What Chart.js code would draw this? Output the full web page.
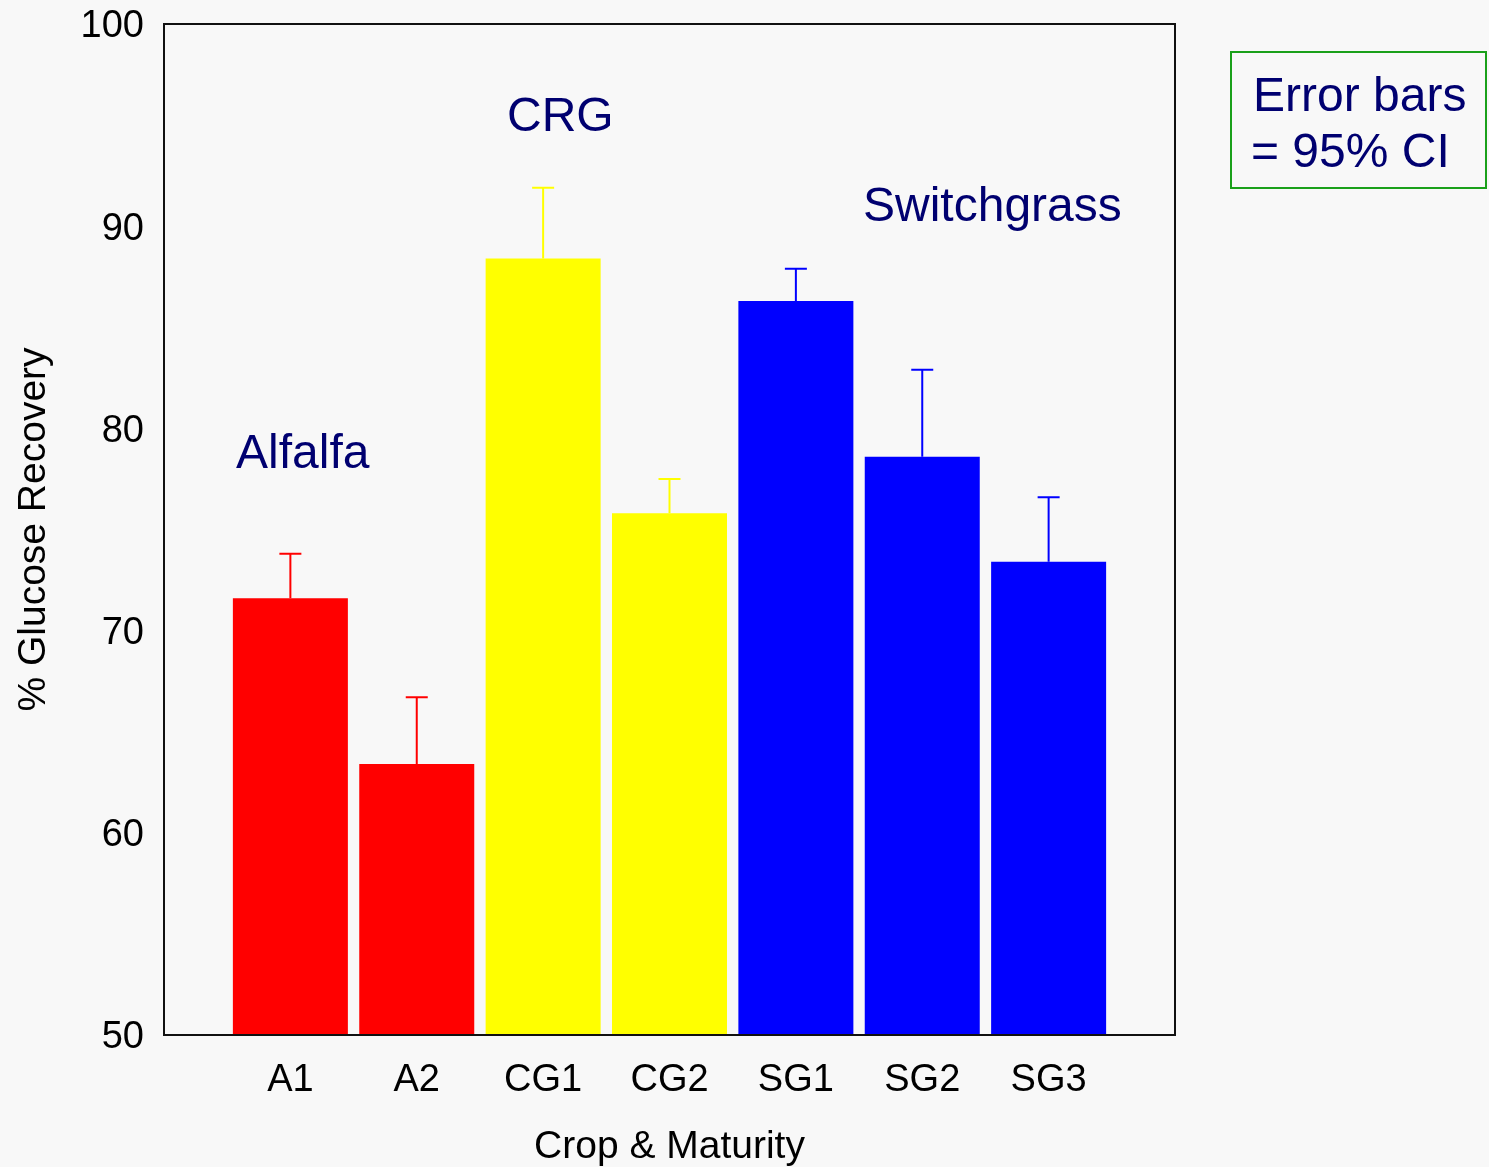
<!DOCTYPE html>
<html>
<head>
<meta charset="utf-8">
<script src="https://cdn.jsdelivr.net/npm/chart.js@4"></script>
<style>
  html, body { margin: 0; padding: 0; background: #f8f8f8; }
  #wrap { width: 1489px; height: 1167px; position: relative; }
</style>
</head>
<body>
<div id="wrap"><canvas id="c" width="1489" height="1167"></canvas></div>
<script>
// ---- data ----
const categories = ['A1', 'A2', 'CG1', 'CG2', 'SG1', 'SG2', 'SG3'];
const recovery   = [71.6, 63.4, 88.4, 75.8, 86.3, 78.6, 73.4];
const upperCI    = [73.8, 66.7, 91.9, 77.5, 87.9, 82.9, 76.6];
const crops      = ['A', 'A', 'CG', 'CG', 'SG', 'SG', 'SG'];
const yTicks     = [50, 60, 70, 80, 90, 100];
const groupLabels = ['Alfalfa', 'CRG', 'Switchgrass'];
const noteLines = ['Error bars', '= 95% CI'];

// ---- styles ----
const cropColors = { A: '#ff0000', CG: '#ffff00', SG: '#0000ff' };
const FONT = '"Liberation Sans", Arial, sans-serif';
const navy = '#000070';

// padded category axis: one empty slot on each side
const labels = [''].concat(categories, ['']);
const values = [null].concat(recovery, [null]);
const uppers = [null].concat(upperCI, [null]);
const colors = ['#000'].concat(crops.map(c => cropColors[c]), ['#000']);

const extras = {
  id: 'extras',
  afterDatasetsDraw(chart) {
    const ctx = chart.ctx;
    const x = chart.scales.x, y = chart.scales.y;
    const ca = chart.chartArea;
    // error bars
    ctx.save();
    ctx.lineWidth = 2;
    for (let i = 0; i < labels.length; i++) {
      if (values[i] == null) continue;
      const px = x.getPixelForValue(i);
      const y0 = y.getPixelForValue(values[i]);
      const y1 = y.getPixelForValue(uppers[i]);
      ctx.strokeStyle = colors[i];
      ctx.beginPath();
      ctx.moveTo(px, y0); ctx.lineTo(px, y1);
      ctx.moveTo(px - 11, y1); ctx.lineTo(px + 11, y1);
      ctx.stroke();
    }
    ctx.restore();
    // frame
    ctx.save();
    ctx.strokeStyle = '#111';
    ctx.lineWidth = 2;
    ctx.strokeRect(ca.left, ca.top, ca.right - ca.left, ca.bottom - ca.top);
    ctx.restore();
  },
  afterDraw(chart) {
    const ctx = chart.ctx;
    ctx.save();
    ctx.fillStyle = navy;
    ctx.font = '48px ' + FONT;
    ctx.textBaseline = 'alphabetic';
    ctx.textAlign = 'left';
    const pos = [[236, 468], [507, 131], [863, 221]];
    groupLabels.forEach((g, k) => ctx.fillText(g, pos[k][0], pos[k][1]));
    // note box
    ctx.strokeStyle = '#1aa01a';
    ctx.lineWidth = 2;
    ctx.strokeRect(1231, 52, 255, 136);
    ctx.fillText(noteLines[0], 1253, 111);
    ctx.fillText(noteLines[1], 1251, 167);
    ctx.restore();
  }
};

new Chart(document.getElementById('c'), {
  type: 'bar',
  data: {
    labels: labels,
    datasets: [{
      data: values,
      backgroundColor: colors,
      borderWidth: 0,
      barPercentage: 0.91,
      categoryPercentage: 1.0
    }]
  },
  options: {
    responsive: false,
    animation: false,
    layout: { padding: { top: 24, right: 314, left: 0, bottom: 0 } },
    plugins: { legend: { display: false }, tooltip: { enabled: false } },
    scales: {
      x: {
        type: 'category',
        offset: false,
        grid: { display: false, drawTicks: false },
        border: { display: false },
        ticks: { color: '#000', font: { family: FONT, size: 38 }, padding: 23, autoSkip: false, maxRotation: 0 },
        title: { display: true, text: 'Crop & Maturity', color: '#000', font: { family: FONT, size: 39 }, padding: { top: 0, bottom: -4 } },
        afterFit(s) { s.height = 132; s.paddingLeft = 0; s.paddingRight = 0; }
      },
      y: {
        min: 50, max: 100,
        afterBuildTicks(s) { s.ticks = yTicks.map(v => ({ value: v })); },
        grid: { display: false, drawTicks: false },
        border: { display: false },
        ticks: { color: '#000', font: { family: FONT, size: 38 }, padding: 20, labelOffset: 3 },
        title: { display: true, text: '% Glucose Recovery', color: '#000', font: { family: FONT, size: 39 }, padding: { top: 11, bottom: 0 } },
        afterFit(s) { s.width = 164; s.paddingTop = 0; s.paddingBottom = 0; }
      }
    }
  },
  plugins: [extras]
});
</script>
</body>
</html>
